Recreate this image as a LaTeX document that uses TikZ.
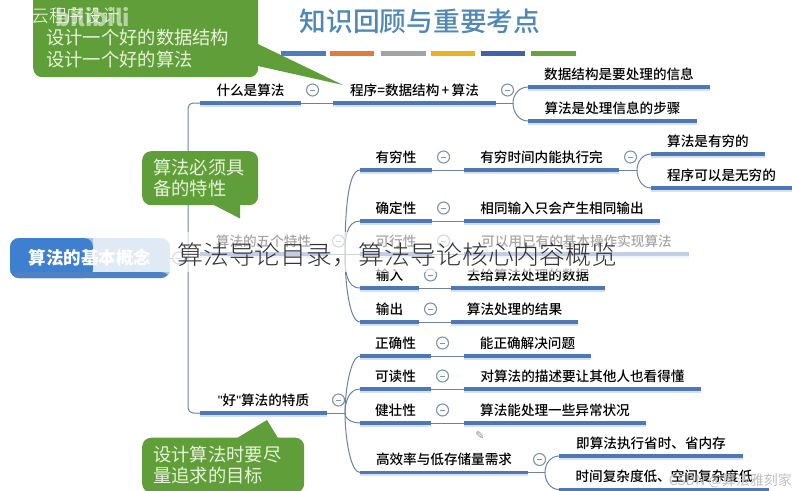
\documentclass[tikz,border=0pt]{standalone}
\usepackage{fontspec}
\setmainfont{Noto Sans CJK SC}
\newfontfamily\symfont{DejaVu Sans}
\newfontfamily\quotefont{Liberation Sans}
\newfontfamily\thinfont{Noto Sans CJK SC Light}
\newfontfamily\midfont{Noto Sans CJK SC Medium}
\usetikzlibrary{positioning}
\definecolor{barblue}{HTML}{4D78B5}
\definecolor{barglow}{HTML}{D3E1F0}
\definecolor{linkgrey}{HTML}{6D8299}
\definecolor{foldgrey}{HTML}{7F93A8}
\definecolor{tipgreen}{HTML}{5F9E38}
\definecolor{tiptext}{HTML}{EAF3DC}
\definecolor{titleblue}{HTML}{4F88B5}
\definecolor{rootblue}{HTML}{3F7FD0}
\definecolor{rootpale}{HTML}{A9C3E4}
\definecolor{rootedge}{HTML}{4F82C4}
\definecolor{mblue}{HTML}{4E7DBB}
\definecolor{morange}{HTML}{E07B3C}
\definecolor{mgrey}{HTML}{A3A3A3}
\definecolor{myellow}{HTML}{E8B322}
\definecolor{mnavy}{HTML}{3F62A8}
\definecolor{mgreen}{HTML}{66A33F}
\begin{document}
\begin{tikzpicture}[x=1pt, y=-1pt,
		topic/.style = {anchor=south west, inner sep=0pt, outer sep=0pt, minimum height=26pt, text height=11.9pt, text depth=1.7pt, text=black, font=\midfont\fontsize{13.6}{16}\selectfont},
		fold/.style = {draw=foldgrey, line width=1.1pt, fill=white, circle, minimum size=12pt, inner sep=0pt, path picture={\draw[foldgrey, line width=.9pt] (-2.5pt,0pt) -- (2.5pt,0pt);}},
		link/.style = {draw=linkgrey, line width=1pt},
		far/.style = {in looseness=.4},
		bubble/.style = {fill=tipgreen, rounded corners=9pt, inner ysep=0pt, inner xsep=11pt, align=left, text=tiptext, font=\fontsize{18.3}{21}\selectfont}]
	\useasboundingbox (0,0) rectangle (792,490);

	\node[text=titleblue, font=\midfont\fontsize{26.7}{30}\selectfont] (title) at (420,21) {知识回顾与重要考点};
	\foreach \c/\x in {mblue/281, morange/329.5, mgrey/381, myellow/430.5, mnavy/480.5, mgreen/531}
		\fill[\c] (\x,50.5) rectangle ++(44.5,5.5);

	\node[fill=rootpale, rounded corners=9pt, minimum width=160pt, minimum height=40pt, inner sep=0pt, text=white,
		font=\bfseries\fontsize{17.5}{20}\selectfont,
		path picture={\fill[rootblue] (path picture bounding box.north west) rectangle ++(83pt,-40pt);
			\fill[rootedge] (path picture bounding box.south west) rectangle ++(160pt,6pt);}] (root) at (90,258) {算法的基本概念};
	\coordinate (trunk) at (188,258);

	% first level
	\node[topic, minimum width=101pt] (what) at (200,103) {什么是算法};
	\node[topic, minimum width=163pt, right=32pt of what] (prog) {程序=数据结构\,+\,算法};
	\coordinate[right=17pt of prog.south east] (progfork);
	\node[topic, minimum width=182pt] (data) at (528,87) {数据结构是要处理的信息};
	\node[topic, minimum width=169pt] (steps) at (528,121) {算法是处理信息的步骤};

	\node[topic, minimum width=127pt] (five) at (200,254) {算法的五个特性};
	\coordinate[right=18pt of five.south east] (fivefork);

	\node[topic, minimum width=127pt] (good) at (200,413) {{\quotefont"}好{\quotefont"}算法的特质};
	\coordinate[right=18pt of good.south east] (goodfork);

	% the five properties
	\node[topic, minimum width=72pt] (finite) at (360,170) {有穷性};
	\node[topic, minimum width=155pt, right=32pt of finite] (finitetime) {有穷时间内能执行完};
	\coordinate[right=18pt of finitetime.south east] (timefork);
	\node[topic, minimum width=114pt] (algofinite) at (651,154) {算法是有穷的};
	\node[topic, minimum width=141pt] (proginfinite) at (651,188) {程序可以是无穷的};

	\node[topic, minimum width=72pt] (sure) at (360,221) {确定性};
	\node[topic, minimum width=196pt, right=32pt of sure] (sureout) {相同输入只会产生相同输出};

	\node[topic, minimum width=72pt] (doable) at (360,254) {可行性};
	\node[topic, minimum width=225pt, right=32pt of doable] (doableops) {可以用已有的基本操作实现算法};

	\node[topic, minimum width=59pt] (input) at (360,288) {输入};
	\node[topic, minimum width=154pt, right=32pt of input] (inputdata) {去给算法处理的数据};

	\node[topic, minimum width=59pt] (output) at (360,322) {输出};
	\node[topic, minimum width=127pt, right=32pt of output] (outputres) {算法处理的结果};

	% the good qualities
	\node[topic, minimum width=71pt] (right) at (360,356) {正确性};
	\node[topic, minimum width=127pt, right=33pt of right] (rightdo) {能正确解决问题};

	\node[topic, minimum width=71pt] (read) at (360,389) {可读性};
	\node[topic, minimum width=237pt, right=33pt of read] (readdo) {对算法的描述要让其他人也看得懂};

	\node[topic, minimum width=71pt] (robust) at (360,423) {健壮性};
	\node[topic, minimum width=182pt, right=33pt of robust] (robustdo) {算法能处理一些异常状况};

	\node[topic, minimum width=168pt] (high) at (360,472.5) {高效率与低存储量需求};
	\coordinate[right=17pt of high.south east] (highfork);
	\node[topic, minimum width=184pt] (saves) at (559,456) {即算法执行省时、省内存};
	\node[topic, minimum width=210pt] (lowcost) at (559,489.5) {时间复杂度低、空间复杂度低};

	\draw[link] (root) -- (trunk);
	\draw[link, rounded corners=5pt] (trunk) |- (what.south west);
	\draw[link, rounded corners=5pt] (trunk) |- (good.south west);
	\draw[link] (trunk) |- (five.south west);
	\draw[link] (what.south east) -- (prog.south west);
	\draw[link] (prog.south east) -- (progfork);
	\draw[link] (five.south east) -- (fivefork);
	\draw[link] (good.south east) -- (goodfork);
	\draw[link] (finitetime.south east) -- (timefork);
	\draw[link] (high.south east) -- (highfork);
	\draw[link] (progfork) to[out=90, in=180] (data.south west);
	\draw[link] (progfork) to[out=-90, in=180] (steps.south west);
	\draw[link] (fivefork) to[out=90, in=180, far] (finite.south west);
	\draw[link] (fivefork) to[out=90, in=180] (sure.south west);
	\draw[link] (fivefork) -- (doable.south west);
	\draw[link] (fivefork) to[out=-90, in=180] (input.south west);
	\draw[link] (fivefork) to[out=-90, in=180, far] (output.south west);
	\draw[link] (goodfork) to[out=90, in=180, far] (right.south west);
	\draw[link] (goodfork) to[out=90, in=180] (read.south west);
	\draw[link] (goodfork) to[out=-90, in=180] (robust.south west);
	\draw[link] (goodfork) to[out=-90, in=180, far] (high.south west);
	\draw[link] (timefork) to[out=90, in=180] (algofinite.south west);
	\draw[link] (timefork) to[out=-90, in=180] (proginfinite.south west);
	\draw[link] (highfork) to[out=90, in=180] (saves.south west);
	\draw[link] (highfork) to[out=-90, in=180] (lowcost.south west);
	\draw[link] (finite.south east) -- (finitetime.south west);
	\draw[link] (sure.south east) -- (sureout.south west);
	\draw[link] (doable.south east) -- (doableops.south west);
	\draw[link] (input.south east) -- (inputdata.south west);
	\draw[link] (output.south east) -- (outputres.south west);
	\draw[link] (right.south east) -- (rightdo.south west);
	\draw[link] (read.south east) -- (readdo.south west);
	\draw[link] (robust.south east) -- (robustdo.south west);

	\foreach \n in {what, prog, data, steps, five, good, finite, finitetime, algofinite, proginfinite, sure, sureout, doable, doableops, input, inputdata, output, outputres, right, rightdo, read, readdo, robust, robustdo, high, saves, lowcost} {
		\draw[barglow, line width=5.5pt] ([yshift=-1pt]\n.south west) -- ([yshift=-1pt]\n.south east);
		\draw[barblue, line width=3.4pt] (\n.south west) -- (\n.south east);
	}

	% collapse marks
	\node[fold, right=2pt of root] (rootfold) {};
	\foreach \n in {what, prog, five, good, finite, finitetime, sure, doable, input, output, right, read, robust, high}
		\node[fold, right=5pt of \n] (\n fold) {};

	% green notes
	\fill[tipgreen] (258,44) -- (343,85) -- (258,66) -- cycle;
	\fill[tipgreen] (212,204) -- (240,218.5) -- (240,204) -- cycle;
	\fill[tipgreen] (237,438) -- (267,420) -- (278,438) -- cycle;
	\node[bubble, anchor=north west, minimum width=225pt, minimum height=90pt] (goal) at (33,-13) {};
	\node[anchor=west, inner sep=0pt, align=left, text=tiptext, font=\fontsize{18.3}{22}\selectfont] (goaltext) at (46,49) {设计一个好的数据结构\\设计一个好的算法};
	\node[bubble, anchor=north west, minimum height=54pt, text width=94pt] (must) at (142,151) {算法必须具\\备的特性};
	\node[bubble, anchor=north west, minimum height=55pt, text width=140pt] (aim) at (142,437.5) {设计算法时要尽\\量追求的目标};

	% stamps on top of the picture
	\node[text=white, anchor=west, inner sep=0pt, font=\thinfont\fontsize{17.8}{20}\selectfont] (course) at (31,16) {云程序设计};
	\node[text=white, opacity=.55, anchor=west, inner sep=0pt, font=\bfseries\fontsize{23}{25}\selectfont] (bili) at (55,17) {bilibili};
	\node[text=black!45, font=\symfont\fontsize{11}{12}\selectfont] (pencil) at (480,436) {✎};
	\node[text=black!25, anchor=east, inner sep=0pt, font=\fontsize{14}{16}\selectfont] (mark) at (792,481) {CSDN @算法雅刻家};

	\fill[white, opacity=.65] (93,232) rectangle (792,272);
	\node[anchor=west, inner sep=0pt, text=black!80, font=\thinfont\fontsize{25.9}{28}\selectfont] (banner) at (177,255) {算法导论目录，算法导论核心内容概览};
\end{tikzpicture}
\end{document}
